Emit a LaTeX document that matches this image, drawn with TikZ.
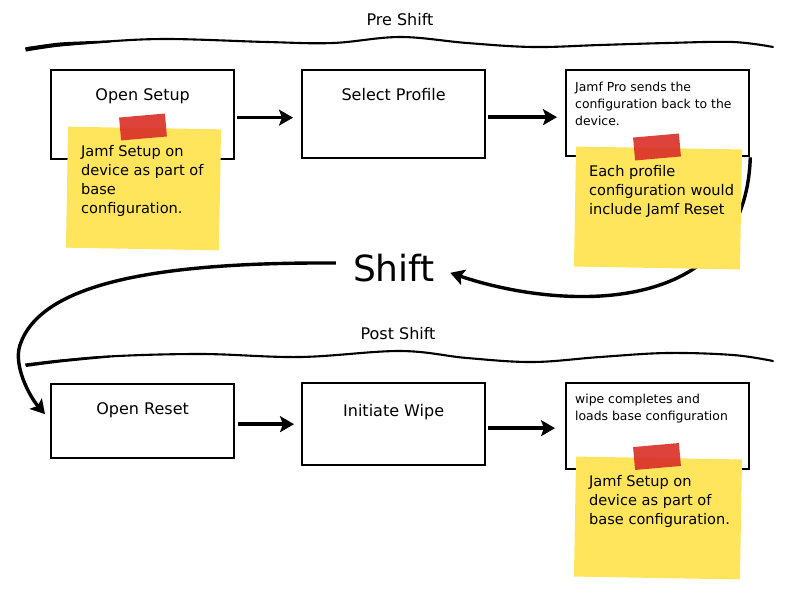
\documentclass[tikz,border=0pt]{standalone}
\usepackage{fontspec}
\setmainfont{DejaVu Sans}
\usetikzlibrary{arrows.meta}
\definecolor{notaamarilla}{HTML}{FFE55C}
\definecolor{cinta}{HTML}{D92E26}

\begin{document}
\begin{tikzpicture}[x=1pt, y=-1pt,
    caja/.style={draw, line width=2.3pt, minimum width=183pt, anchor=north west, inner sep=0pt},
    titulo/.style={font=\fontsize{16}{19}\selectfont, anchor=base, inner sep=0pt},
    textochico/.style={font=\fontsize{12.4}{16.7}\selectfont, align=left, anchor=north west, inner sep=0pt},
    nota/.style={fill=notaamarilla, minimum width=166pt, minimum height=120pt, rotate=-1, inner sep=0pt},
    textonota/.style={font=\fontsize{14.6}{19}\selectfont, align=left, anchor=north west, inner sep=0pt},
    cintaroja/.style={fill=cinta, opacity=0.9, minimum width=46pt, minimum height=23pt, inner sep=0pt, rotate=5},
    flecha/.style={line width=3.4pt, -{Stealth[length=14pt, width=16pt, inset=3pt]}},
    onda/.style={line width=2.1pt, line cap=round}
  ]
  \useasboundingbox (0,0) rectangle (798,600);

  % Etiquetas de las fases
  \node[font=\fontsize{16}{19}\selectfont] (pre) at (400,20) {Pre Shift};
  \node[font=\fontsize{16}{19}\selectfont] (post) at (398,334) {Post Shift};
  \node[font=\fontsize{36}{40}\selectfont, inner sep=1pt] (shift) at (394,268) {Shift};

  % Llaves onduladas
  \draw[onda] plot[smooth, tension=0.6] coordinates {(28,48) (100,42) (167,39) (267,42) (333,43) (400,37) (467,43) (533,47) (600,45) (667,43) (733,42) (773,47)};
  \fill plot[smooth] coordinates {(25,47.5) (60,42.5) (110,40.5)} -- plot[smooth] coordinates {(110,42.5) (60,46.5) (26,51.5)} -- cycle;
  \draw[onda] plot[smooth, tension=0.6] coordinates {(27,365) (100,357) (200,354) (300,357) (400,351) (467,358) (533,362) (600,357) (667,353) (733,355) (773,361)};
  \fill plot[smooth] coordinates {(25,363.5) (60,359.5) (110,355.5)} -- plot[smooth] coordinates {(110,357.5) (60,362.5) (26,367)} -- cycle;

  % Cajas de arriba
  \node[caja, minimum height=89pt] (setup) at (50,69) {};
  \node[caja, minimum height=88pt] (profile) at (301,69) {};
  \node[caja, minimum height=86pt] (pro) at (565,69) {};
  \node[titulo] (setup-t) at ([yshift=-31pt]setup.north) {Open Setup};
  \node[titulo] (profile-t) at ([yshift=-31pt]profile.north) {Select Profile};
  \node[textochico] (pro-t) at ([shift={(10pt,-13pt)}]pro.north west) {Jamf Pro sends the\\configuration back to the\\device.};

  % Cajas de abajo
  \node[caja, minimum height=74pt] (reset) at (50,383) {};
  \node[caja, minimum height=82pt] (wipe) at (301,382) {};
  \node[caja, minimum height=86pt] (done) at (565,382) {};
  \node[titulo] (reset-t) at ([yshift=-31pt]reset.north) {Open Reset};
  \node[titulo] (wipe-t) at ([yshift=-34pt]wipe.north) {Initiate Wipe};
  \node[textochico] (done-t) at ([shift={(10pt,-12pt)}]done.north west) {wipe completes and\\loads base configuration};

  % Flechas
  \draw[flecha, shorten <=2pt, shorten >=8pt] ([yshift=-3pt]setup.east) -- ([yshift=-3pt]setup.east -| profile.west);
  \draw[flecha, shorten <=2pt, shorten >=8pt] ([yshift=-3pt]profile.east) -- ([yshift=-3pt]profile.east -| pro.west);
  \draw[flecha, shorten <=3pt, shorten >=7pt] ([yshift=-3pt]reset.east) -- ([yshift=-3pt]reset.east -| wipe.west);
  \draw[flecha, shorten <=2pt, shorten >=10pt] ([yshift=-4pt]wipe.east) -- ([yshift=-4pt]wipe.east -| done.west);
  \draw[flecha, shorten >=15pt] (pro.south east) .. controls (745,320) and (560,310) .. (shift.east);
  \draw[flecha] ([shift={(-16pt,5pt)}]shift.west) .. controls (150,262) and (40,285) .. (20,345)
    .. controls (13,366) and (30,397) .. ([shift={(-5pt,7pt)}]reset.west);

  % Notas adhesivas
  \node[nota, minimum width=153pt, minimum height=121pt] (note1) at (143.5,188.5) {};
  \node[nota] (note2) at (658,208) {};
  \node[nota] (note3) at (658,518) {};
  \node[cintaroja] (tape1) at (143,127) {};
  \node[cintaroja] (tape2) at (657,147) {};
  \node[cintaroja] (tape3) at (657,456.5) {};
  \node[textonota] (note1-t) at ([shift={(13pt,-19pt)}]note1.north west) {Jamf Setup on\\device as part of\\base\\configuration.};
  \node[textonota] (note2-t) at ([shift={(13pt,-19pt)}]note2.north west) {Each profile\\configuration would\\include Jamf Reset};
  \node[textonota] (note3-t) at ([shift={(13pt,-19pt)}]note3.north west) {Jamf Setup on\\device as part of\\base configuration.};
\end{tikzpicture}
\end{document}
